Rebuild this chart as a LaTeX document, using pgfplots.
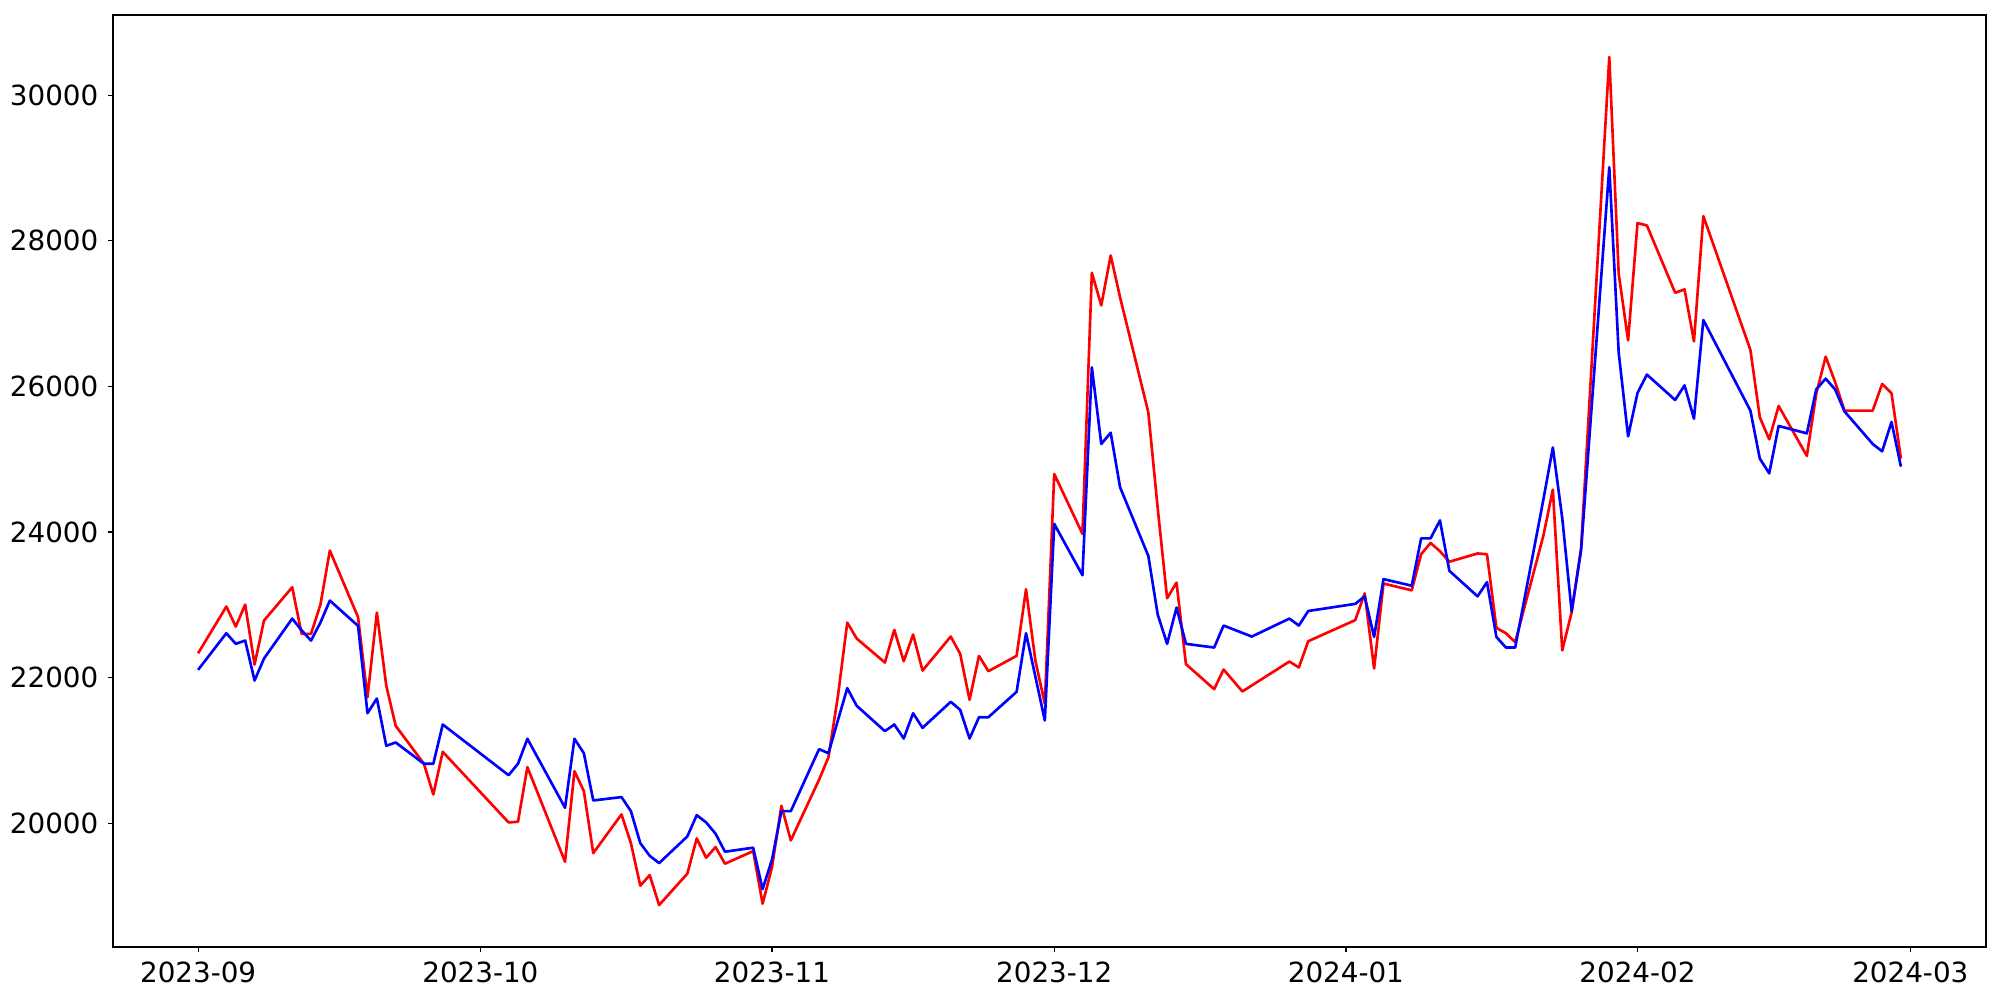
\documentclass[border=0pt]{standalone}
\usepackage{fontspec}
\setmainfont{DejaVu Sans}
\usepackage{pgfplots}
\usepackage{pgfplotstable}
\pgfplotsset{compat=1.18}

\pgfplotstableread{
d v
0 22335
3 22976
4 22701
5 23003
6 22180
7 22784
10 23241
11 22601
12 22601
13 23003
14 23745
17 22830
18 21731
19 22894
20 21887
21 21338
24 20817
25 20395
26 20981
33 20011
34 20020
35 20770
39 19471
40 20715
41 20441
42 19590
45 20121
46 19727
47 19142
48 19288
49 18876
52 19307
53 19791
54 19526
55 19672
56 19444
59 19617
60 18895
61 19397
62 20240
63 19764
66 20597
67 20907
68 21740
69 22756
70 22537
73 22207
74 22656
75 22225
76 22592
77 22097
80 22564
81 22327
82 21695
83 22299
84 22088
87 22299
88 23213
89 22230
90 21640
91 24797
94 23974
95 27561
96 27112
97 27798
98 27222
101 25645
102 24325
103 23090
104 23305
105 22185
108 21841
109 22111
111 21810
116 22221
117 22139
118 22500
123 22790
124 23157
125 22125
126 23292
129 23199
130 23695
131 23850
132 23736
133 23592
136 23705
137 23695
138 22682
139 22611
140 22486
143 23953
144 24583
145 22374
146 22899
147 23778
150 30524
151 27547
152 26632
153 28243
154 28210
157 27286
158 27332
159 26618
160 28339
165 26500
166 25575
167 25273
168 25731
171 25045
172 25900
173 26408
174 26061
175 25667
178 25667
179 26033
180 25904
181 25008
}\reddata

\pgfplotstableread{
d v
0 22107
3 22610
4 22464
5 22509
6 21960
7 22262
10 22811
11 22650
12 22509
13 22756
14 23058
17 22711
18 21511
19 21713
20 21064
21 21109
24 20817
25 20817
26 21356
33 20660
34 20817
35 21160
39 20213
40 21160
41 20962
42 20313
45 20359
46 20166
47 19727
48 19553
49 19452
52 19819
53 20111
54 20011
55 19856
56 19609
59 19664
60 19095
61 19500
62 20166
63 20166
66 21017
67 20962
68 21411
69 21855
70 21613
73 21265
74 21356
75 21164
76 21511
77 21310
80 21668
81 21558
82 21164
83 21456
84 21456
87 21805
88 22610
89 22011
90 21411
91 24111
94 23406
95 26261
96 25209
97 25364
98 24614
101 23672
102 22866
103 22464
104 22962
105 22464
108 22413
109 22715
112 22564
116 22811
117 22715
118 22915
123 23013
124 23116
125 22559
126 23353
129 23262
130 23912
131 23912
132 24159
133 23467
136 23116
137 23312
138 22559
139 22414
140 22414
143 24449
144 25161
145 24191
146 22910
147 23746
150 29010
151 26463
152 25313
153 25910
154 26162
157 25813
158 26014
159 25557
160 26911
165 25667
166 25008
167 24806
168 25456
171 25355
172 25959
173 26106
174 25959
175 25657
178 25209
179 25108
180 25511
181 24898
}\bluedata

\begin{document}
\begin{tikzpicture}
\path[use as bounding box] (-40.68pt,-19.08pt) rectangle (679.32pt,340.92pt);
\begin{axis}[
  at={(0,0)}, anchor=south west,
  scale only axis, width=674.3pt, height=335.5pt,
  xmin=-9.05, xmax=190.05, ymin=18300, ymax=31100,
  xtick={0,30,61,91,122,153,182},
  xticklabels={2023-09,2023-10,2023-11,2023-12,2024-01,2024-02,2024-03},
  ytick={20000,22000,24000,26000,28000,30000},
  tick align=outside, tick pos=left,
  major tick length=1.75pt,
  every tick/.style={black, line width=0.45pt},
  axis line style={line width=0.45pt},
  ticklabel style={font=\fontsize{10}{12}\selectfont},
  /pgf/number format/assume math mode=true,
  /pgf/number format/1000 sep={},
  scaled y ticks=false,
]
\addplot[red, line width=0.95pt, line join=round] table[x=d,y=v]{\reddata};
\addplot[blue, line width=0.95pt, line join=round] table[x=d,y=v]{\bluedata};
\end{axis}
\end{tikzpicture}
\end{document}
